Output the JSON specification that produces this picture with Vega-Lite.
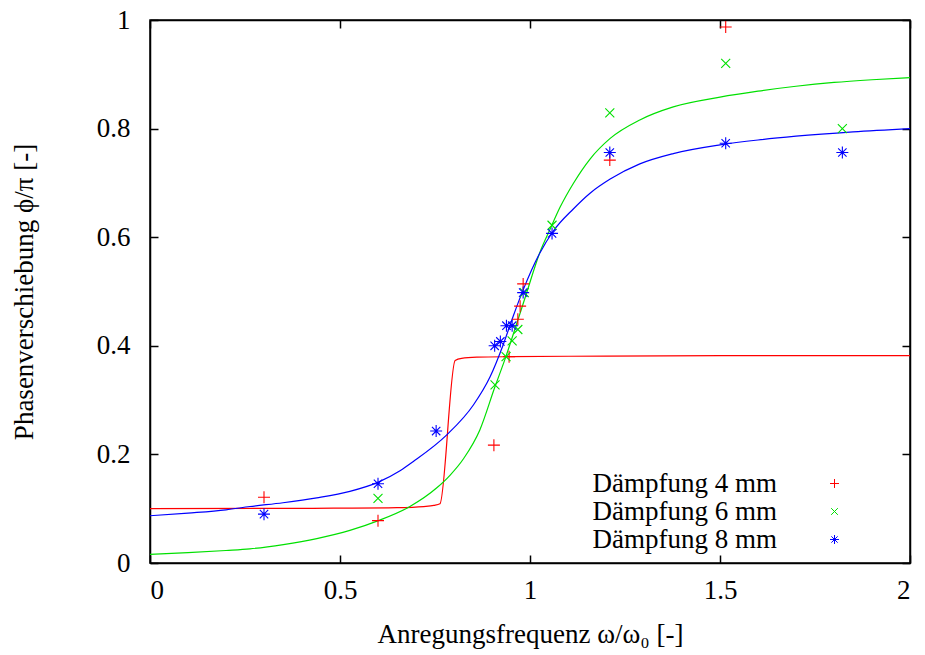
{
  "$schema": "https://vega.github.io/schema/vega-lite/v6.json",
  "width": 760,
  "height": 543,
  "autosize": "none",
  "padding": {"left": 150, "top": 20, "right": 15, "bottom": 92},
  "background": "white",
  "config": {
    "view": {"stroke": "black", "strokeWidth": 1.5},
    "font": "Liberation Serif",
    "axis": {
      "grid": false,
      "domainColor": "black",
      "domainWidth": 1.5,
      "tickColor": "black",
      "tickWidth": 1.5,
      "tickSize": -8,
      "labelColor": "black",
      "titleColor": "black",
      "labelFont": "Liberation Serif",
      "titleFont": "Liberation Serif",
      "labelFontSize": 27,
      "titleFontSize": 27,
      "titleFontWeight": "normal"
    },
    "legend": {
      "labelFont": "Liberation Serif",
      "labelFontSize": 27,
      "labelColor": "black",
      "labelLimit": 400
    }
  },
  "datasets": {
    "points": [
      {"series": "Dämpfung 4 mm", "w": 0.3, "phi": 0.121},
      {"series": "Dämpfung 4 mm", "w": 0.6, "phi": 0.078},
      {"series": "Dämpfung 4 mm", "w": 0.905, "phi": 0.217},
      {"series": "Dämpfung 4 mm", "w": 0.945, "phi": 0.38},
      {"series": "Dämpfung 4 mm", "w": 0.968, "phi": 0.449},
      {"series": "Dämpfung 4 mm", "w": 0.974, "phi": 0.473},
      {"series": "Dämpfung 4 mm", "w": 0.982, "phi": 0.514},
      {"series": "Dämpfung 4 mm", "w": 1.21, "phi": 0.742},
      {"series": "Dämpfung 4 mm", "w": 1.515, "phi": 0.987},
      {"series": "Dämpfung 6 mm", "w": 0.6, "phi": 0.119},
      {"series": "Dämpfung 6 mm", "w": 0.908, "phi": 0.328},
      {"series": "Dämpfung 6 mm", "w": 0.937, "phi": 0.38},
      {"series": "Dämpfung 6 mm", "w": 0.953, "phi": 0.409},
      {"series": "Dämpfung 6 mm", "w": 0.968, "phi": 0.43},
      {"series": "Dämpfung 6 mm", "w": 0.985, "phi": 0.498},
      {"series": "Dämpfung 6 mm", "w": 1.058, "phi": 0.622},
      {"series": "Dämpfung 6 mm", "w": 1.21, "phi": 0.829},
      {"series": "Dämpfung 6 mm", "w": 1.515, "phi": 0.92},
      {"series": "Dämpfung 6 mm", "w": 1.822, "phi": 0.8},
      {"series": "Dämpfung 8 mm", "w": 0.3, "phi": 0.09},
      {"series": "Dämpfung 8 mm", "w": 0.6, "phi": 0.146},
      {"series": "Dämpfung 8 mm", "w": 0.753, "phi": 0.243},
      {"series": "Dämpfung 8 mm", "w": 0.907, "phi": 0.4},
      {"series": "Dämpfung 8 mm", "w": 0.922, "phi": 0.408},
      {"series": "Dämpfung 8 mm", "w": 0.938, "phi": 0.437},
      {"series": "Dämpfung 8 mm", "w": 0.953, "phi": 0.437},
      {"series": "Dämpfung 8 mm", "w": 0.982, "phi": 0.498},
      {"series": "Dämpfung 8 mm", "w": 1.058, "phi": 0.607},
      {"series": "Dämpfung 8 mm", "w": 1.21, "phi": 0.756},
      {"series": "Dämpfung 8 mm", "w": 1.515, "phi": 0.773},
      {"series": "Dämpfung 8 mm", "w": 1.822, "phi": 0.756}
    ],
    "fits": [
      {"curve": "fit 4 mm", "w": 0, "phi": 0.1},
      {"curve": "fit 4 mm", "w": 0.3, "phi": 0.1005},
      {"curve": "fit 4 mm", "w": 0.5, "phi": 0.101},
      {"curve": "fit 4 mm", "w": 0.65, "phi": 0.102},
      {"curve": "fit 4 mm", "w": 0.72, "phi": 0.104},
      {"curve": "fit 4 mm", "w": 0.747, "phi": 0.106},
      {"curve": "fit 4 mm", "w": 0.763, "phi": 0.109},
      {"curve": "fit 4 mm", "w": 0.803, "phi": 0.373},
      {"curve": "fit 4 mm", "w": 0.82, "phi": 0.377},
      {"curve": "fit 4 mm", "w": 0.86, "phi": 0.379},
      {"curve": "fit 4 mm", "w": 0.95, "phi": 0.38},
      {"curve": "fit 4 mm", "w": 1.2, "phi": 0.381},
      {"curve": "fit 4 mm", "w": 1.6, "phi": 0.382},
      {"curve": "fit 4 mm", "w": 2, "phi": 0.382},
      {"curve": "fit 6 mm", "w": 0, "phi": 0.016},
      {"curve": "fit 6 mm", "w": 0.1, "phi": 0.019},
      {"curve": "fit 6 mm", "w": 0.2, "phi": 0.023},
      {"curve": "fit 6 mm", "w": 0.263, "phi": 0.026},
      {"curve": "fit 6 mm", "w": 0.351, "phi": 0.034},
      {"curve": "fit 6 mm", "w": 0.439, "phi": 0.045},
      {"curve": "fit 6 mm", "w": 0.526, "phi": 0.06},
      {"curve": "fit 6 mm", "w": 0.601, "phi": 0.078},
      {"curve": "fit 6 mm", "w": 0.684, "phi": 0.104},
      {"curve": "fit 6 mm", "w": 0.754, "phi": 0.138},
      {"curve": "fit 6 mm", "w": 0.79, "phi": 0.162},
      {"curve": "fit 6 mm", "w": 0.825, "phi": 0.192},
      {"curve": "fit 6 mm", "w": 0.868, "phi": 0.245},
      {"curve": "fit 6 mm", "w": 0.908, "phi": 0.325},
      {"curve": "fit 6 mm", "w": 0.934, "phi": 0.375},
      {"curve": "fit 6 mm", "w": 0.96, "phi": 0.43},
      {"curve": "fit 6 mm", "w": 0.99, "phi": 0.495},
      {"curve": "fit 6 mm", "w": 1.026, "phi": 0.572},
      {"curve": "fit 6 mm", "w": 1.053, "phi": 0.615},
      {"curve": "fit 6 mm", "w": 1.079, "phi": 0.655},
      {"curve": "fit 6 mm", "w": 1.114, "phi": 0.699},
      {"curve": "fit 6 mm", "w": 1.158, "phi": 0.744},
      {"curve": "fit 6 mm", "w": 1.211, "phi": 0.782},
      {"curve": "fit 6 mm", "w": 1.289, "phi": 0.816},
      {"curve": "fit 6 mm", "w": 1.377, "phi": 0.84},
      {"curve": "fit 6 mm", "w": 1.5, "phi": 0.858},
      {"curve": "fit 6 mm", "w": 1.6, "phi": 0.869},
      {"curve": "fit 6 mm", "w": 1.7, "phi": 0.878},
      {"curve": "fit 6 mm", "w": 1.8, "phi": 0.885},
      {"curve": "fit 6 mm", "w": 1.9, "phi": 0.89},
      {"curve": "fit 6 mm", "w": 2, "phi": 0.894},
      {"curve": "fit 8 mm", "w": 0, "phi": 0.087},
      {"curve": "fit 8 mm", "w": 0.1, "phi": 0.092},
      {"curve": "fit 8 mm", "w": 0.2, "phi": 0.098},
      {"curve": "fit 8 mm", "w": 0.263, "phi": 0.104},
      {"curve": "fit 8 mm", "w": 0.35, "phi": 0.111},
      {"curve": "fit 8 mm", "w": 0.439, "phi": 0.12},
      {"curve": "fit 8 mm", "w": 0.526, "phi": 0.132},
      {"curve": "fit 8 mm", "w": 0.601, "phi": 0.149},
      {"curve": "fit 8 mm", "w": 0.658, "phi": 0.17},
      {"curve": "fit 8 mm", "w": 0.693, "phi": 0.187},
      {"curve": "fit 8 mm", "w": 0.781, "phi": 0.236},
      {"curve": "fit 8 mm", "w": 0.851, "phi": 0.291},
      {"curve": "fit 8 mm", "w": 0.895, "phi": 0.343},
      {"curve": "fit 8 mm", "w": 0.93, "phi": 0.403},
      {"curve": "fit 8 mm", "w": 0.956, "phi": 0.455},
      {"curve": "fit 8 mm", "w": 0.982, "phi": 0.503},
      {"curve": "fit 8 mm", "w": 1.026, "phi": 0.571},
      {"curve": "fit 8 mm", "w": 1.061, "phi": 0.611},
      {"curve": "fit 8 mm", "w": 1.114, "phi": 0.652},
      {"curve": "fit 8 mm", "w": 1.158, "phi": 0.681},
      {"curve": "fit 8 mm", "w": 1.211, "phi": 0.707},
      {"curve": "fit 8 mm", "w": 1.289, "phi": 0.735},
      {"curve": "fit 8 mm", "w": 1.377, "phi": 0.754},
      {"curve": "fit 8 mm", "w": 1.5, "phi": 0.77},
      {"curve": "fit 8 mm", "w": 1.6, "phi": 0.779},
      {"curve": "fit 8 mm", "w": 1.7, "phi": 0.786},
      {"curve": "fit 8 mm", "w": 1.85, "phi": 0.794},
      {"curve": "fit 8 mm", "w": 2, "phi": 0.8}
    ]
  },
  "layer": [
    {
      "data": {"name": "fits"},
      "mark": {"type": "line", "strokeWidth": 1.2, "interpolate": "monotone", "clip": true},
      "encoding": {
        "x": {"field": "w", "type": "quantitative", "scale": {"domain": [0, 2], "nice": false},
              "axis": {"orient": "top", "labels": false, "title": null, "values": [0, 0.5, 1, 1.5, 2]}},
        "y": {"field": "phi", "type": "quantitative", "scale": {"domain": [0, 1], "nice": false},
              "axis": {"orient": "right", "labels": false, "title": null, "values": [0, 0.2, 0.4, 0.6, 0.8, 1]}},
        "stroke": {"field": "curve", "type": "nominal",
                  "scale": {"domain": ["fit 4 mm", "fit 6 mm", "fit 8 mm"], "range": ["#ff0000", "#00e000", "#0000ff"]},
                  "legend": null}
      }
    },
    {
      "data": {"name": "points"},
      "mark": {"type": "point", "filled": false, "strokeWidth": 1.1, "size": 144, "opacity": 1},
      "encoding": {
        "x": {"field": "w", "type": "quantitative", "scale": {"domain": [0, 2], "nice": false},
              "axis": {"orient": "bottom", "title": "Anregungsfrequenz ω/ω₀ [-]", "values": [0, 0.5, 1, 1.5, 2], "format": "~g", "labelPadding": 22, "titlePadding": 18}},
        "y": {"field": "phi", "type": "quantitative", "scale": {"domain": [0, 1], "nice": false},
              "axis": {"orient": "left", "title": "Phasenverschiebung ϕ/π [-]", "values": [0, 0.2, 0.4, 0.6, 0.8, 1], "format": "~g", "labelPadding": 28, "titlePadding": 58}},
        "color": {"field": "series", "type": "nominal", "title": null,
                  "scale": {"domain": ["Dämpfung 4 mm", "Dämpfung 6 mm", "Dämpfung 8 mm"], "range": ["#ff0000", "#00e000", "#0000ff"]},
                  "legend": {"orient": "none", "legendX": 671, "legendY": 450, "symbolSize": 80, "symbolStrokeWidth": 1, "symbolFillColor": "transparent",
                             "labelAlign": "right", "labelOffset": -71, "rowPadding": 0, "padding": 0}},
        "shape": {"field": "series", "type": "nominal", "title": null,
                  "scale": {"domain": ["Dämpfung 4 mm", "Dämpfung 6 mm", "Dämpfung 8 mm"],
                            "range": ["M-1,0L1,0M0,-1L0,1", "M-0.75,-0.75L0.75,0.75M-0.75,0.75L0.75,-0.75", "M-1,0L1,0M0,-1L0,1M-0.7,-0.7L0.7,0.7M-0.7,0.7L0.7,-0.7"]},
                  "legend": {"orient": "none", "legendX": 671, "legendY": 450, "symbolSize": 80, "symbolStrokeWidth": 1, "symbolFillColor": "transparent",
                             "labelAlign": "right", "labelOffset": -71, "rowPadding": 0, "padding": 0}}
      }
    }
  ],
  "resolve": {"axis": {"x": "independent", "y": "independent"}}
}
